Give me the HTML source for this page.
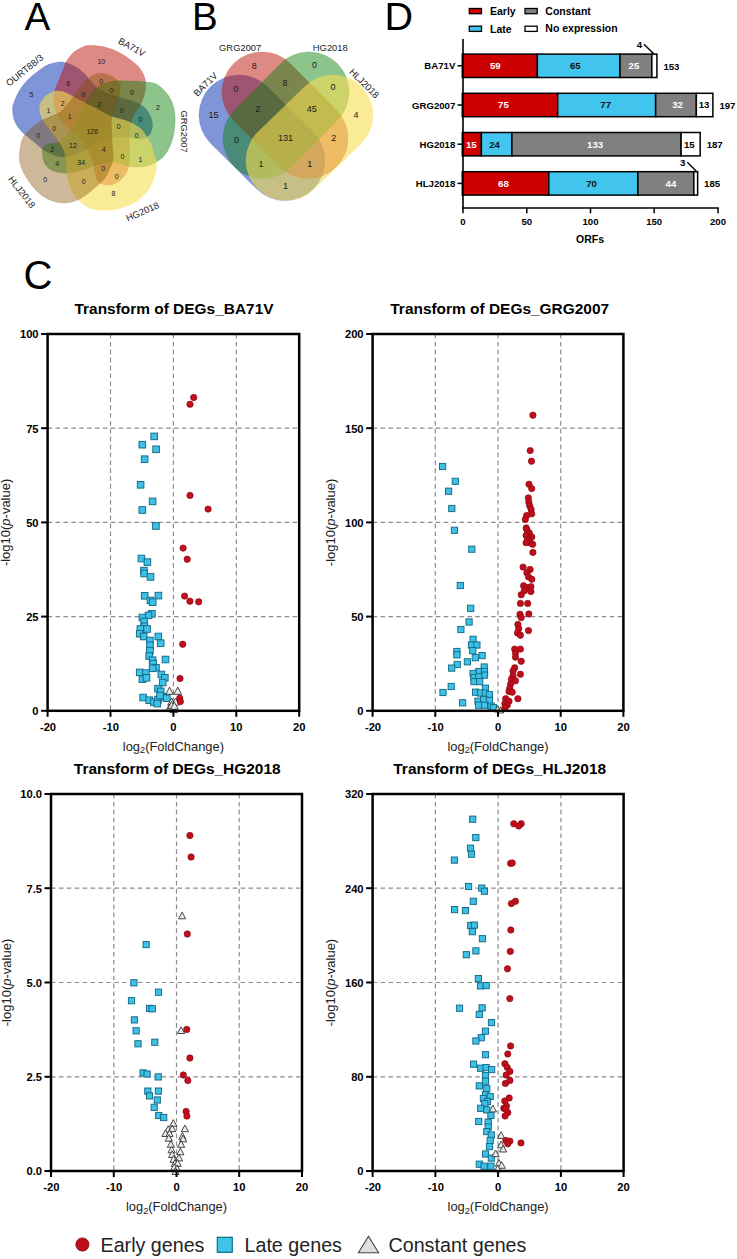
<!DOCTYPE html><html><head><meta charset="utf-8"><style>html,body{margin:0;padding:0;background:#fff}svg{display:block}text{font-family:"Liberation Sans", sans-serif}</style></head><body>
<svg width="737" height="1259" viewBox="0 0 737 1259">
<rect width="737" height="1259" fill="#fff"/>
<text x="24.4" y="29.8" font-size="38.5" fill="#000">A</text>
<text x="192.0" y="29.8" font-size="38.5" fill="#000">B</text>
<text x="23.6" y="288.5" font-size="40" fill="#000">C</text>
<text x="384.6" y="30.3" font-size="39.5" fill="#000">D</text>
<g id="vennA"><path d="M13.4 104.1 C14.4 100.9 16.5 95.5 18.8 91.5 C21.2 87.5 24.2 83.6 27.5 80.1 C30.7 76.7 34.8 73.5 38.4 70.9 C42.0 68.2 45.5 65.8 49.0 64.3 C52.6 62.9 56.6 62.2 59.8 62.0 C62.9 61.9 65.4 62.5 68.1 63.4 C70.9 64.3 73.7 65.5 76.4 67.2 C79.1 68.9 82.1 71.4 84.3 73.5 C86.5 75.6 87.7 77.6 89.6 79.8 C91.5 82.0 93.3 84.6 95.8 86.7 C98.3 88.7 100.8 90.4 104.5 92.1 C108.3 93.9 113.5 95.4 118.5 97.0 C123.5 98.6 130.3 100.2 134.5 101.9 C138.7 103.5 141.4 105.1 143.9 107.0 C146.3 109.0 147.8 111.2 149.1 113.5 C150.5 115.8 151.5 118.2 152.0 120.7 C152.5 123.2 152.7 125.9 152.2 128.3 C151.7 130.8 150.4 133.7 148.8 135.4 C147.3 137.2 145.3 138.3 143.0 138.8 C140.7 139.3 137.8 138.5 134.8 138.2 C131.7 138.0 128.1 137.1 124.6 137.1 C121.2 137.0 117.9 137.1 113.9 137.8 C109.9 138.4 104.8 139.2 100.8 140.9 C96.8 142.5 93.4 145.6 89.6 147.8 C85.9 149.9 82.3 152.0 78.3 153.5 C74.3 155.0 69.6 156.5 65.7 156.8 C61.7 157.1 58.3 156.4 54.6 155.3 C50.9 154.1 46.6 151.9 43.4 149.9 C40.2 147.8 38.2 145.4 35.3 143.0 C32.5 140.7 28.7 137.7 26.3 135.6 C23.8 133.5 22.5 133.0 20.6 130.6 C18.6 128.2 16.0 124.6 14.6 121.3 C13.3 117.9 12.8 113.4 12.6 110.5 C12.4 107.6 12.3 107.2 13.4 104.1Z" fill="rgb(43,77,190)" fill-opacity="0.60" stroke="rgb(43,77,190)" stroke-opacity="0.35" stroke-width="0.6"/>
<path d="M90.0 45.5 C93.3 45.5 99.1 45.8 103.6 46.8 C108.1 47.8 112.8 49.5 117.1 51.5 C121.4 53.5 125.7 56.4 129.3 59.0 C132.9 61.6 136.3 64.2 138.8 67.1 C141.3 70.0 143.2 73.6 144.3 76.6 C145.4 79.6 145.6 82.1 145.6 85.0 C145.6 87.9 145.3 90.9 144.5 94.0 C143.7 97.1 142.3 100.8 141.0 103.5 C139.7 106.2 138.1 108.0 136.6 110.5 C135.1 113.0 133.2 115.5 132.0 118.5 C130.8 121.5 130.0 124.4 129.5 128.5 C129.0 132.6 129.2 138.1 129.2 143.3 C129.2 148.6 129.8 155.5 129.5 160.0 C129.2 164.5 128.6 167.6 127.5 170.5 C126.4 173.4 124.8 175.5 123.0 177.5 C121.2 179.5 119.2 181.2 117.0 182.5 C114.8 183.8 112.3 184.8 109.8 185.0 C107.3 185.2 104.1 184.9 102.0 184.0 C99.9 183.1 98.2 181.6 97.0 179.5 C95.8 177.4 95.7 174.5 95.0 171.5 C94.3 168.5 94.0 164.8 93.0 161.5 C92.0 158.2 90.8 155.1 89.0 151.5 C87.2 147.9 84.8 143.3 82.0 140.0 C79.2 136.7 75.2 134.4 72.0 131.5 C68.8 128.6 65.7 125.8 63.0 122.5 C60.3 119.2 57.5 115.2 56.0 111.5 C54.5 107.8 54.0 104.4 54.0 100.5 C54.0 96.6 54.8 91.9 55.7 88.2 C56.7 84.5 58.3 81.9 59.7 78.4 C61.1 75.0 62.8 70.5 64.0 67.5 C65.2 64.5 65.3 63.1 67.0 60.5 C68.7 57.9 71.2 54.3 74.0 52.0 C76.8 49.7 80.9 47.8 83.6 46.7 C86.3 45.6 86.7 45.5 90.0 45.5Z" fill="rgb(189,21,9)" fill-opacity="0.50" stroke="rgb(189,21,9)" stroke-opacity="0.35" stroke-width="0.6"/>
<path d="M173.0 105.1 C174.0 108.2 174.8 111.8 175.0 116.0 C175.2 120.2 175.0 125.5 174.4 130.2 C173.7 134.8 172.5 139.7 170.9 143.9 C169.3 148.1 167.1 152.2 164.7 155.2 C162.3 158.2 159.4 160.0 156.6 161.7 C153.8 163.4 150.9 164.6 148.0 165.5 C145.0 166.3 141.9 166.7 139.0 166.9 C136.1 167.1 133.3 167.0 130.4 166.5 C127.6 166.1 124.6 164.8 121.8 164.1 C118.9 163.4 116.4 162.2 113.2 162.1 C110.1 162.0 106.8 162.5 102.6 163.5 C98.5 164.4 93.1 166.5 88.5 167.9 C83.9 169.2 79.0 170.9 74.8 171.8 C70.7 172.6 66.9 173.0 63.7 173.0 C60.4 172.9 57.8 172.3 55.3 171.5 C52.7 170.7 50.3 169.8 48.4 168.0 C46.4 166.2 44.6 163.2 43.6 160.7 C42.6 158.2 42.4 155.1 42.4 152.8 C42.4 150.5 42.5 148.4 43.6 146.9 C44.7 145.4 46.7 144.4 48.9 143.8 C51.2 143.2 54.5 144.2 57.1 143.0 C59.7 141.9 62.2 139.3 64.6 136.9 C67.0 134.6 69.3 132.0 71.4 128.9 C73.6 125.9 75.7 121.9 77.5 118.5 C79.4 115.1 80.8 111.9 82.7 108.5 C84.5 105.0 86.5 101.4 88.7 98.1 C91.0 94.7 93.1 90.9 96.1 88.3 C99.1 85.8 103.2 84.0 106.9 82.7 C110.6 81.5 114.4 81.1 118.2 80.8 C121.9 80.6 125.5 81.0 129.5 81.1 C133.5 81.3 138.1 81.3 142.3 81.7 C146.6 82.1 151.6 82.1 155.1 83.5 C158.6 84.8 160.9 87.3 163.3 89.6 C165.7 91.9 167.8 94.5 169.4 97.1 C171.0 99.7 172.1 101.9 173.0 105.1Z" fill="rgb(10,129,10)" fill-opacity="0.47" stroke="rgb(10,129,10)" stroke-opacity="0.35" stroke-width="0.6"/>
<path d="M140.1 198.7 C136.5 201.7 132.3 203.7 128.0 205.6 C123.7 207.4 118.9 208.9 114.4 209.6 C109.8 210.4 105.0 210.4 100.9 210.2 C96.8 209.9 93.2 209.4 90.0 208.2 C86.7 207.0 83.9 204.9 81.4 202.8 C78.8 200.8 76.5 199.0 74.6 196.0 C72.6 193.1 71.1 188.6 69.8 185.1 C68.6 181.6 67.8 178.4 67.3 175.1 C66.7 171.9 66.9 168.8 66.6 165.7 C66.3 162.6 66.3 159.8 65.6 156.6 C64.8 153.4 64.0 150.3 62.1 146.7 C60.2 143.2 57.3 139.4 54.4 135.3 C51.5 131.2 47.0 126.0 44.6 122.4 C42.3 118.7 41.0 115.9 40.2 113.2 C39.4 110.5 39.5 108.3 39.9 106.0 C40.3 103.7 41.2 101.5 42.6 99.5 C43.9 97.5 45.9 95.6 48.0 94.2 C50.1 92.8 52.8 91.7 55.1 91.2 C57.5 90.8 59.9 91.1 62.2 91.6 C64.6 92.2 66.7 93.3 69.3 94.6 C71.8 95.8 74.7 97.6 77.5 99.1 C80.4 100.6 83.4 102.1 86.5 103.7 C89.6 105.3 92.2 106.4 96.1 108.5 C100.0 110.5 104.7 113.9 110.0 116.0 C115.3 118.2 123.0 119.4 128.0 121.4 C133.0 123.4 136.8 125.4 140.0 128.0 C143.1 130.6 145.1 134.3 147.0 137.0 C148.8 139.7 149.9 141.6 151.0 144.4 C152.2 147.3 152.8 151.0 153.7 154.0 C154.7 156.9 156.3 158.6 156.5 162.0 C156.7 165.4 156.2 170.1 155.1 174.4 C154.0 178.7 152.2 183.8 149.7 187.8 C147.2 191.9 143.8 195.7 140.1 198.7Z" fill="rgb(247,222,80)" fill-opacity="0.60" stroke="rgb(247,222,80)" stroke-opacity="0.35" stroke-width="0.6"/>
<path d="M44.7 197.3 C40.9 195.0 37.3 191.7 33.9 187.9 C30.5 184.0 26.8 178.8 24.4 174.3 C22.0 169.8 20.3 165.2 19.7 160.7 C19.0 156.2 19.8 151.0 20.4 147.1 C20.9 143.3 21.6 140.6 22.9 137.9 C24.3 135.1 26.4 133.0 28.5 130.8 C30.6 128.6 32.9 126.5 35.4 124.7 C37.8 122.8 40.5 121.2 43.2 119.8 C45.8 118.5 48.7 117.5 51.2 116.4 C53.8 115.3 56.2 114.7 58.6 113.1 C61.0 111.5 62.8 110.0 65.5 107.0 C68.2 104.0 71.7 99.2 74.6 95.3 C77.5 91.5 80.5 87.0 83.1 84.0 C85.7 80.9 88.1 78.6 90.4 76.9 C92.8 75.2 94.8 74.3 97.1 73.7 C99.3 73.2 101.6 73.3 103.9 73.7 C106.2 74.1 108.8 74.9 110.9 76.0 C113.0 77.0 115.2 78.5 116.7 79.9 C118.2 81.4 119.4 83.0 120.0 84.8 C120.5 86.5 120.5 88.1 120.1 90.5 C119.7 92.9 118.5 96.0 117.6 99.1 C116.6 102.2 115.5 105.8 114.5 109.3 C113.5 112.7 111.9 114.9 111.4 120.0 C111.0 125.1 111.7 133.7 112.0 140.0 C112.2 146.4 113.3 153.4 112.9 158.0 C112.6 162.7 111.4 164.7 110.0 168.0 C108.7 171.4 107.0 175.2 104.9 178.1 C102.9 180.9 100.5 182.6 97.8 185.1 C95.0 187.6 91.6 190.7 88.2 193.2 C84.8 195.7 80.8 198.5 77.4 200.1 C74.0 201.6 71.2 202.4 67.8 202.8 C64.4 203.1 60.9 203.1 57.0 202.2 C53.2 201.3 48.6 199.7 44.7 197.3Z" fill="rgb(130,80,0)" fill-opacity="0.40" stroke="rgb(130,80,0)" stroke-opacity="0.35" stroke-width="0.6"/>

<text x="101.3" y="61.1" font-size="7" font-weight="normal" text-anchor="middle" fill="#1a1a1a" dominant-baseline="central">10</text>
<text x="31.5" y="94.6" font-size="7" font-weight="normal" text-anchor="middle" fill="#1a1a1a" dominant-baseline="central">5</text>
<text x="68.3" y="83.0" font-size="7" font-weight="normal" text-anchor="middle" fill="#1a1a1a" dominant-baseline="central">6</text>
<text x="101.1" y="81.2" font-size="7" font-weight="normal" text-anchor="middle" fill="#1a1a1a" dominant-baseline="central">0</text>
<text x="83.3" y="94.1" font-size="7" font-weight="normal" text-anchor="middle" fill="#1a1a1a" dominant-baseline="central">0</text>
<text x="111.4" y="90.7" font-size="7" font-weight="normal" text-anchor="middle" fill="#1a1a1a" dominant-baseline="central">0</text>
<text x="132.0" y="92.8" font-size="7" font-weight="normal" text-anchor="middle" fill="#1a1a1a" dominant-baseline="central">0</text>
<text x="158.0" y="107.5" font-size="7" font-weight="normal" text-anchor="middle" fill="#1a1a1a" dominant-baseline="central">2</text>
<text x="62.6" y="103.9" font-size="7" font-weight="normal" text-anchor="middle" fill="#1a1a1a" dominant-baseline="central">2</text>
<text x="48.5" y="110.9" font-size="7" font-weight="normal" text-anchor="middle" fill="#1a1a1a" dominant-baseline="central">1</text>
<text x="99.3" y="104.4" font-size="7" font-weight="normal" text-anchor="middle" fill="#1a1a1a" dominant-baseline="central">2</text>
<text x="121.7" y="110.3" font-size="7" font-weight="normal" text-anchor="middle" fill="#1a1a1a" dominant-baseline="central">0</text>
<text x="69.6" y="116.0" font-size="7" font-weight="normal" text-anchor="middle" fill="#1a1a1a" dominant-baseline="central">1</text>
<text x="140.5" y="119.9" font-size="7" font-weight="normal" text-anchor="middle" fill="#1a1a1a" dominant-baseline="central">0</text>
<text x="54.1" y="128.1" font-size="7" font-weight="normal" text-anchor="middle" fill="#1a1a1a" dominant-baseline="central">0</text>
<text x="92.3" y="131.0" font-size="7" font-weight="normal" text-anchor="middle" fill="#1a1a1a" dominant-baseline="central">126</text>
<text x="118.6" y="126.3" font-size="7" font-weight="normal" text-anchor="middle" fill="#1a1a1a" dominant-baseline="central">0</text>
<text x="38.2" y="135.9" font-size="7" font-weight="normal" text-anchor="middle" fill="#1a1a1a" dominant-baseline="central">0</text>
<text x="136.6" y="135.3" font-size="7" font-weight="normal" text-anchor="middle" fill="#1a1a1a" dominant-baseline="central">0</text>
<text x="52.3" y="149.5" font-size="7" font-weight="normal" text-anchor="middle" fill="#1a1a1a" dominant-baseline="central">2</text>
<text x="73.0" y="145.7" font-size="7" font-weight="normal" text-anchor="middle" fill="#1a1a1a" dominant-baseline="central">12</text>
<text x="103.6" y="149.0" font-size="7" font-weight="normal" text-anchor="middle" fill="#1a1a1a" dominant-baseline="central">4</text>
<text x="122.5" y="156.0" font-size="7" font-weight="normal" text-anchor="middle" fill="#1a1a1a" dominant-baseline="central">0</text>
<text x="140.5" y="159.8" font-size="7" font-weight="normal" text-anchor="middle" fill="#1a1a1a" dominant-baseline="central">1</text>
<text x="57.2" y="163.7" font-size="7" font-weight="normal" text-anchor="middle" fill="#1a1a1a" dominant-baseline="central">4</text>
<text x="81.2" y="162.4" font-size="7" font-weight="normal" text-anchor="middle" fill="#1a1a1a" dominant-baseline="central">34</text>
<text x="103.1" y="168.9" font-size="7" font-weight="normal" text-anchor="middle" fill="#1a1a1a" dominant-baseline="central">0</text>
<text x="116.8" y="176.1" font-size="7" font-weight="normal" text-anchor="middle" fill="#1a1a1a" dominant-baseline="central">0</text>
<text x="45.1" y="179.7" font-size="7" font-weight="normal" text-anchor="middle" fill="#1a1a1a" dominant-baseline="central">0</text>
<text x="83.8" y="181.7" font-size="7" font-weight="normal" text-anchor="middle" fill="#1a1a1a" dominant-baseline="central">0</text>
<text x="113.4" y="193.3" font-size="7" font-weight="normal" text-anchor="middle" fill="#1a1a1a" dominant-baseline="central">8</text>
<text x="132.0" y="47.0" font-size="9.4" font-weight="normal" text-anchor="middle" fill="#222" dominant-baseline="central" transform="rotate(29.0 132.0 47.0)">BA71V</text>
<text x="24.5" y="70.0" font-size="9.4" font-weight="normal" text-anchor="middle" fill="#222" dominant-baseline="central" transform="rotate(-39.0 24.5 70.0)">OURT88/3</text>
<text x="184.8" y="131.5" font-size="9.4" font-weight="normal" text-anchor="middle" fill="#222" dominant-baseline="central" transform="rotate(90.0 184.8 131.5)">GRG2007</text>
<text x="22.0" y="192.0" font-size="9.4" font-weight="normal" text-anchor="middle" fill="#222" dominant-baseline="central" transform="rotate(52.0 22.0 192.0)">HLJ2018</text>
<text x="142.4" y="211.4" font-size="9.4" font-weight="normal" text-anchor="middle" fill="#222" dominant-baseline="central" transform="rotate(-23.7 142.4 211.4)">HG2018</text>
</g>
<g id="vennB"><rect x="189.6" y="97.8" width="144.7" height="80.0" rx="40.0" transform="rotate(44.7 262.0 137.8)" fill="rgb(43,77,190)" fill-opacity="0.60" stroke="rgb(43,77,190)" stroke-opacity="0.35" stroke-width="0.6"/><rect x="212.3" y="75.2" width="145.4" height="80.0" rx="40.0" transform="rotate(45.3 285.0 115.2)" fill="rgb(189,21,9)" fill-opacity="0.50" stroke="rgb(189,21,9)" stroke-opacity="0.35" stroke-width="0.6"/><rect x="213.3" y="75.2" width="145.4" height="80.0" rx="40.0" transform="rotate(134.7 286.0 115.2)" fill="rgb(10,129,10)" fill-opacity="0.47" stroke="rgb(10,129,10)" stroke-opacity="0.35" stroke-width="0.6"/><rect x="236.8" y="97.8" width="145.4" height="80.0" rx="40.0" transform="rotate(135.9 309.5 137.8)" fill="rgb(247,222,80)" fill-opacity="0.60" stroke="rgb(247,222,80)" stroke-opacity="0.35" stroke-width="0.6"/>
<text x="254.2" y="66.0" font-size="9" font-weight="normal" text-anchor="middle" fill="#1a1a1a" dominant-baseline="central">8</text>
<text x="314.4" y="65.1" font-size="9" font-weight="normal" text-anchor="middle" fill="#1a1a1a" dominant-baseline="central">0</text>
<text x="235.7" y="88.7" font-size="9" font-weight="normal" text-anchor="middle" fill="#1a1a1a" dominant-baseline="central">0</text>
<text x="284.9" y="82.8" font-size="9" font-weight="normal" text-anchor="middle" fill="#1a1a1a" dominant-baseline="central">8</text>
<text x="332.9" y="86.8" font-size="9" font-weight="normal" text-anchor="middle" fill="#1a1a1a" dominant-baseline="central">0</text>
<text x="213.5" y="114.5" font-size="9" font-weight="normal" text-anchor="middle" fill="#1a1a1a" dominant-baseline="central">15</text>
<text x="257.7" y="108.5" font-size="9" font-weight="normal" text-anchor="middle" fill="#1a1a1a" dominant-baseline="central">2</text>
<text x="311.7" y="108.5" font-size="9" font-weight="normal" text-anchor="middle" fill="#1a1a1a" dominant-baseline="central">45</text>
<text x="356.0" y="114.5" font-size="9" font-weight="normal" text-anchor="middle" fill="#1a1a1a" dominant-baseline="central">4</text>
<text x="236.6" y="139.8" font-size="9" font-weight="normal" text-anchor="middle" fill="#1a1a1a" dominant-baseline="central">0</text>
<text x="285.4" y="138.4" font-size="9" font-weight="normal" text-anchor="middle" fill="#1a1a1a" dominant-baseline="central">131</text>
<text x="333.7" y="138.4" font-size="9" font-weight="normal" text-anchor="middle" fill="#1a1a1a" dominant-baseline="central">2</text>
<text x="261.0" y="164.2" font-size="9" font-weight="normal" text-anchor="middle" fill="#1a1a1a" dominant-baseline="central">1</text>
<text x="309.8" y="164.2" font-size="9" font-weight="normal" text-anchor="middle" fill="#1a1a1a" dominant-baseline="central">1</text>
<text x="285.4" y="185.9" font-size="9" font-weight="normal" text-anchor="middle" fill="#1a1a1a" dominant-baseline="central">1</text>
<text x="240.2" y="47.5" font-size="9.4" font-weight="normal" text-anchor="middle" fill="#222" dominant-baseline="central">GRG2007</text>
<text x="330.3" y="47.2" font-size="9.4" font-weight="normal" text-anchor="middle" fill="#222" dominant-baseline="central">HG2018</text>
<text x="205.3" y="84.1" font-size="9.4" font-weight="normal" text-anchor="middle" fill="#222" dominant-baseline="central" transform="rotate(-45.0 205.3 84.1)">BA71V</text>
<text x="364.5" y="83.2" font-size="9.4" font-weight="normal" text-anchor="middle" fill="#222" dominant-baseline="central" transform="rotate(45.0 364.5 83.2)">HLJ2018</text>
</g>
<g id="barD" font-weight="bold">
<rect x="469.3" y="8.5" width="12.2" height="5.2" fill="#cc0000" stroke="#000" stroke-width="1.3"/><text x="490.0" y="11.0" font-size="10.5" font-weight="bold" text-anchor="start" fill="#000" dominant-baseline="central">Early</text>
<rect x="525.0" y="8.5" width="12.2" height="5.2" fill="#808080" stroke="#000" stroke-width="1.3"/><text x="545.3" y="10.7" font-size="10.5" font-weight="bold" text-anchor="start" fill="#000" dominant-baseline="central">Constant</text>
<rect x="469.3" y="26.2" width="12.2" height="5.2" fill="#41c5ef" stroke="#000" stroke-width="1.3"/><text x="490.0" y="28.8" font-size="10.5" font-weight="bold" text-anchor="start" fill="#000" dominant-baseline="central">Late</text>
<rect x="525.0" y="26.2" width="12.2" height="5.2" fill="#fff" stroke="#000" stroke-width="1.3"/><text x="545.3" y="27.6" font-size="10.5" font-weight="bold" text-anchor="start" fill="#000" dominant-baseline="central">No expression</text>
<rect x="462.30" y="54.10" width="75.05" height="23.4" fill="#cc0000" stroke="#000" stroke-width="1.5"/>
<text x="495.3" y="65.7" font-size="9.6" font-weight="bold" text-anchor="middle" fill="#fff" dominant-baseline="central">59</text>
<rect x="537.35" y="54.10" width="82.68" height="23.4" fill="#41c5ef" stroke="#000" stroke-width="1.5"/>
<text x="575.3" y="65.7" font-size="9.6" font-weight="bold" text-anchor="middle" fill="#111" dominant-baseline="central">65</text>
<rect x="620.03" y="54.10" width="31.80" height="23.4" fill="#808080" stroke="#000" stroke-width="1.5"/>
<text x="633.9" y="65.7" font-size="9.6" font-weight="bold" text-anchor="middle" fill="#fff" dominant-baseline="central">25</text>
<rect x="651.83" y="54.10" width="5.09" height="23.4" fill="#fff" stroke="#000" stroke-width="1.5"/>
<text x="663.4" y="66.0" font-size="9.6" font-weight="bold" text-anchor="start" fill="#000" dominant-baseline="central">153</text>
<text x="455.3" y="65.8" font-size="9.6" font-weight="bold" text-anchor="end" fill="#000" dominant-baseline="central">BA71V</text>
<line x1="457.5" x2="463" y1="65.8" y2="65.8" stroke="#000" stroke-width="1.5"/>
<rect x="462.30" y="93.30" width="95.40" height="23.4" fill="#cc0000" stroke="#000" stroke-width="1.5"/>
<text x="503.4" y="104.9" font-size="9.6" font-weight="bold" text-anchor="middle" fill="#fff" dominant-baseline="central">75</text>
<rect x="557.70" y="93.30" width="97.94" height="23.4" fill="#41c5ef" stroke="#000" stroke-width="1.5"/>
<text x="605.7" y="104.9" font-size="9.6" font-weight="bold" text-anchor="middle" fill="#111" dominant-baseline="central">77</text>
<rect x="655.64" y="93.30" width="40.70" height="23.4" fill="#808080" stroke="#000" stroke-width="1.5"/>
<text x="677.6" y="104.9" font-size="9.6" font-weight="bold" text-anchor="middle" fill="#fff" dominant-baseline="central">32</text>
<rect x="696.35" y="93.30" width="16.54" height="23.4" fill="#fff" stroke="#000" stroke-width="1.5"/>
<text x="704.1" y="104.9" font-size="9.6" font-weight="bold" text-anchor="middle" fill="#000" dominant-baseline="central">13</text>
<text x="719.4" y="105.2" font-size="9.6" font-weight="bold" text-anchor="start" fill="#000" dominant-baseline="central">197</text>
<text x="455.3" y="105.0" font-size="9.6" font-weight="bold" text-anchor="end" fill="#000" dominant-baseline="central">GRG2007</text>
<line x1="457.5" x2="463" y1="105.0" y2="105.0" stroke="#000" stroke-width="1.5"/>
<rect x="462.30" y="132.50" width="19.08" height="23.4" fill="#cc0000" stroke="#000" stroke-width="1.5"/>
<text x="471.3" y="144.1" font-size="9.6" font-weight="bold" text-anchor="middle" fill="#fff" dominant-baseline="central">15</text>
<rect x="481.38" y="132.50" width="30.53" height="23.4" fill="#41c5ef" stroke="#000" stroke-width="1.5"/>
<text x="494.6" y="144.1" font-size="9.6" font-weight="bold" text-anchor="middle" fill="#111" dominant-baseline="central">24</text>
<rect x="511.91" y="132.50" width="169.18" height="23.4" fill="#808080" stroke="#000" stroke-width="1.5"/>
<text x="595.1" y="144.1" font-size="9.6" font-weight="bold" text-anchor="middle" fill="#fff" dominant-baseline="central">133</text>
<rect x="681.08" y="132.50" width="19.08" height="23.4" fill="#fff" stroke="#000" stroke-width="1.5"/>
<text x="689.3" y="144.1" font-size="9.6" font-weight="bold" text-anchor="middle" fill="#000" dominant-baseline="central">15</text>
<text x="706.7" y="144.4" font-size="9.6" font-weight="bold" text-anchor="start" fill="#000" dominant-baseline="central">187</text>
<text x="455.3" y="144.2" font-size="9.6" font-weight="bold" text-anchor="end" fill="#000" dominant-baseline="central">HG2018</text>
<line x1="457.5" x2="463" y1="144.2" y2="144.2" stroke="#000" stroke-width="1.5"/>
<rect x="462.30" y="171.70" width="86.50" height="23.4" fill="#cc0000" stroke="#000" stroke-width="1.5"/>
<text x="503.4" y="183.3" font-size="9.6" font-weight="bold" text-anchor="middle" fill="#fff" dominant-baseline="central">68</text>
<rect x="548.80" y="171.70" width="89.04" height="23.4" fill="#41c5ef" stroke="#000" stroke-width="1.5"/>
<text x="591.6" y="183.3" font-size="9.6" font-weight="bold" text-anchor="middle" fill="#111" dominant-baseline="central">70</text>
<rect x="637.84" y="171.70" width="55.97" height="23.4" fill="#808080" stroke="#000" stroke-width="1.5"/>
<text x="670.9" y="183.3" font-size="9.6" font-weight="bold" text-anchor="middle" fill="#fff" dominant-baseline="central">44</text>
<rect x="693.80" y="171.70" width="3.82" height="23.4" fill="#fff" stroke="#000" stroke-width="1.5"/>
<text x="704.1" y="183.6" font-size="9.6" font-weight="bold" text-anchor="start" fill="#000" dominant-baseline="central">185</text>
<text x="455.3" y="183.4" font-size="9.6" font-weight="bold" text-anchor="end" fill="#000" dominant-baseline="central">HLJ2018</text>
<line x1="457.5" x2="463" y1="183.4" y2="183.4" stroke="#000" stroke-width="1.5"/>
<text x="639.3" y="44.7" font-size="9.6" font-weight="bold" text-anchor="middle" fill="#000" dominant-baseline="central">4</text>
<line x1="643.9" y1="44.3" x2="653.8" y2="53.8" stroke="#000" stroke-width="1.4"/>
<text x="682.6" y="162.2" font-size="9.6" font-weight="bold" text-anchor="middle" fill="#000" dominant-baseline="central">3</text>
<line x1="687.3" y1="162.2" x2="696.2" y2="171" stroke="#000" stroke-width="1.4"/>
<line x1="463" x2="463" y1="39" y2="208.8" stroke="#000" stroke-width="1.6"/>
<line x1="462.2" x2="718.8" y1="208" y2="208" stroke="#000" stroke-width="1.6"/>
<line x1="463.0" x2="463.0" y1="208" y2="213.3" stroke="#000" stroke-width="1.5"/>
<text x="463.0" y="221.0" font-size="9.6" font-weight="bold" text-anchor="middle" fill="#000" dominant-baseline="central">0</text>
<line x1="526.8" x2="526.8" y1="208" y2="213.3" stroke="#000" stroke-width="1.5"/>
<text x="526.8" y="221.0" font-size="9.6" font-weight="bold" text-anchor="middle" fill="#000" dominant-baseline="central">50</text>
<line x1="590.5" x2="590.5" y1="208" y2="213.3" stroke="#000" stroke-width="1.5"/>
<text x="590.5" y="221.0" font-size="9.6" font-weight="bold" text-anchor="middle" fill="#000" dominant-baseline="central">100</text>
<line x1="654.2" x2="654.2" y1="208" y2="213.3" stroke="#000" stroke-width="1.5"/>
<text x="654.2" y="221.0" font-size="9.6" font-weight="bold" text-anchor="middle" fill="#000" dominant-baseline="central">150</text>
<line x1="718.0" x2="718.0" y1="208" y2="213.3" stroke="#000" stroke-width="1.5"/>
<text x="718.0" y="221.0" font-size="9.6" font-weight="bold" text-anchor="middle" fill="#000" dominant-baseline="central">200</text>
<text x="590.0" y="239.0" font-size="10.5" font-weight="bold" text-anchor="middle" fill="#000" dominant-baseline="central">ORFs</text>
</g>
<g><line x1="110.5" x2="110.5" y1="334.0" y2="710.8" stroke="#8c8c8c" stroke-width="1.2" stroke-dasharray="4.6 3.3"/><line x1="47.6" x2="299.2" y1="428.2" y2="428.2" stroke="#8c8c8c" stroke-width="1.2" stroke-dasharray="4.6 3.3"/><line x1="173.4" x2="173.4" y1="334.0" y2="710.8" stroke="#8c8c8c" stroke-width="1.2" stroke-dasharray="4.6 3.3"/><line x1="47.6" x2="299.2" y1="522.4" y2="522.4" stroke="#8c8c8c" stroke-width="1.2" stroke-dasharray="4.6 3.3"/><line x1="236.3" x2="236.3" y1="334.0" y2="710.8" stroke="#8c8c8c" stroke-width="1.2" stroke-dasharray="4.6 3.3"/><line x1="47.6" x2="299.2" y1="616.6" y2="616.6" stroke="#8c8c8c" stroke-width="1.2" stroke-dasharray="4.6 3.3"/><rect x="150.9" y="433.1" width="6.6" height="6.6" fill="#3fc0e6" stroke="#126a86" stroke-width="0.95"/><rect x="139.0" y="441.4" width="6.6" height="6.6" fill="#3fc0e6" stroke="#126a86" stroke-width="0.95"/><rect x="152.8" y="446.0" width="6.6" height="6.6" fill="#3fc0e6" stroke="#126a86" stroke-width="0.95"/><rect x="141.3" y="455.9" width="6.6" height="6.6" fill="#3fc0e6" stroke="#126a86" stroke-width="0.95"/><rect x="137.3" y="481.5" width="6.6" height="6.6" fill="#3fc0e6" stroke="#126a86" stroke-width="0.95"/><rect x="149.3" y="498.1" width="6.6" height="6.6" fill="#3fc0e6" stroke="#126a86" stroke-width="0.95"/><rect x="139.0" y="506.7" width="6.6" height="6.6" fill="#3fc0e6" stroke="#126a86" stroke-width="0.95"/><rect x="152.6" y="522.7" width="6.6" height="6.6" fill="#3fc0e6" stroke="#126a86" stroke-width="0.95"/><rect x="138.1" y="555.2" width="6.6" height="6.6" fill="#3fc0e6" stroke="#126a86" stroke-width="0.95"/><rect x="144.1" y="558.8" width="6.6" height="6.6" fill="#3fc0e6" stroke="#126a86" stroke-width="0.95"/><rect x="140.6" y="567.3" width="6.6" height="6.6" fill="#3fc0e6" stroke="#126a86" stroke-width="0.95"/><rect x="140.9" y="570.2" width="6.6" height="6.6" fill="#3fc0e6" stroke="#126a86" stroke-width="0.95"/><rect x="147.2" y="573.6" width="6.6" height="6.6" fill="#3fc0e6" stroke="#126a86" stroke-width="0.95"/><rect x="141.4" y="592.5" width="6.6" height="6.6" fill="#3fc0e6" stroke="#126a86" stroke-width="0.95"/><rect x="155.1" y="592.3" width="6.6" height="6.6" fill="#3fc0e6" stroke="#126a86" stroke-width="0.95"/><rect x="147.1" y="597.2" width="6.6" height="6.6" fill="#3fc0e6" stroke="#126a86" stroke-width="0.95"/><rect x="149.4" y="598.9" width="6.6" height="6.6" fill="#3fc0e6" stroke="#126a86" stroke-width="0.95"/><rect x="148.6" y="610.5" width="6.6" height="6.6" fill="#3fc0e6" stroke="#126a86" stroke-width="0.95"/><rect x="145.2" y="612.1" width="6.6" height="6.6" fill="#3fc0e6" stroke="#126a86" stroke-width="0.95"/><rect x="139.1" y="614.2" width="6.6" height="6.6" fill="#3fc0e6" stroke="#126a86" stroke-width="0.95"/><rect x="140.9" y="618.2" width="6.6" height="6.6" fill="#3fc0e6" stroke="#126a86" stroke-width="0.95"/><rect x="141.1" y="623.0" width="6.6" height="6.6" fill="#3fc0e6" stroke="#126a86" stroke-width="0.95"/><rect x="137.1" y="625.7" width="6.6" height="6.6" fill="#3fc0e6" stroke="#126a86" stroke-width="0.95"/><rect x="143.8" y="625.7" width="6.6" height="6.6" fill="#3fc0e6" stroke="#126a86" stroke-width="0.95"/><rect x="136.4" y="630.4" width="6.6" height="6.6" fill="#3fc0e6" stroke="#126a86" stroke-width="0.95"/><rect x="140.4" y="633.2" width="6.6" height="6.6" fill="#3fc0e6" stroke="#126a86" stroke-width="0.95"/><rect x="146.6" y="637.2" width="6.6" height="6.6" fill="#3fc0e6" stroke="#126a86" stroke-width="0.95"/><rect x="155.0" y="633.2" width="6.6" height="6.6" fill="#3fc0e6" stroke="#126a86" stroke-width="0.95"/><rect x="157.4" y="639.9" width="6.6" height="6.6" fill="#3fc0e6" stroke="#126a86" stroke-width="0.95"/><rect x="146.6" y="642.0" width="6.6" height="6.6" fill="#3fc0e6" stroke="#126a86" stroke-width="0.95"/><rect x="146.6" y="647.4" width="6.6" height="6.6" fill="#3fc0e6" stroke="#126a86" stroke-width="0.95"/><rect x="145.9" y="652.8" width="6.6" height="6.6" fill="#3fc0e6" stroke="#126a86" stroke-width="0.95"/><rect x="149.3" y="656.9" width="6.6" height="6.6" fill="#3fc0e6" stroke="#126a86" stroke-width="0.95"/><rect x="162.2" y="656.2" width="6.6" height="6.6" fill="#3fc0e6" stroke="#126a86" stroke-width="0.95"/><rect x="149.9" y="660.3" width="6.6" height="6.6" fill="#3fc0e6" stroke="#126a86" stroke-width="0.95"/><rect x="152.7" y="664.4" width="6.6" height="6.6" fill="#3fc0e6" stroke="#126a86" stroke-width="0.95"/><rect x="149.3" y="665.0" width="6.6" height="6.6" fill="#3fc0e6" stroke="#126a86" stroke-width="0.95"/><rect x="136.4" y="669.1" width="6.6" height="6.6" fill="#3fc0e6" stroke="#126a86" stroke-width="0.95"/><rect x="142.5" y="669.8" width="6.6" height="6.6" fill="#3fc0e6" stroke="#126a86" stroke-width="0.95"/><rect x="139.1" y="675.9" width="6.6" height="6.6" fill="#3fc0e6" stroke="#126a86" stroke-width="0.95"/><rect x="143.2" y="674.5" width="6.6" height="6.6" fill="#3fc0e6" stroke="#126a86" stroke-width="0.95"/><rect x="158.1" y="671.2" width="6.6" height="6.6" fill="#3fc0e6" stroke="#126a86" stroke-width="0.95"/><rect x="161.5" y="674.5" width="6.6" height="6.6" fill="#3fc0e6" stroke="#126a86" stroke-width="0.95"/><rect x="159.4" y="679.3" width="6.6" height="6.6" fill="#3fc0e6" stroke="#126a86" stroke-width="0.95"/><rect x="154.7" y="685.4" width="6.6" height="6.6" fill="#3fc0e6" stroke="#126a86" stroke-width="0.95"/><rect x="157.4" y="688.1" width="6.6" height="6.6" fill="#3fc0e6" stroke="#126a86" stroke-width="0.95"/><rect x="139.8" y="694.2" width="6.6" height="6.6" fill="#3fc0e6" stroke="#126a86" stroke-width="0.95"/><rect x="145.9" y="696.9" width="6.6" height="6.6" fill="#3fc0e6" stroke="#126a86" stroke-width="0.95"/><rect x="150.6" y="699.0" width="6.6" height="6.6" fill="#3fc0e6" stroke="#126a86" stroke-width="0.95"/><rect x="154.7" y="696.3" width="6.6" height="6.6" fill="#3fc0e6" stroke="#126a86" stroke-width="0.95"/><rect x="154.0" y="700.3" width="6.6" height="6.6" fill="#3fc0e6" stroke="#126a86" stroke-width="0.95"/><rect x="160.1" y="693.5" width="6.6" height="6.6" fill="#3fc0e6" stroke="#126a86" stroke-width="0.95"/><rect x="163.5" y="694.9" width="6.6" height="6.6" fill="#3fc0e6" stroke="#126a86" stroke-width="0.95"/><rect x="156.7" y="692.2" width="6.6" height="6.6" fill="#3fc0e6" stroke="#126a86" stroke-width="0.95"/><path d="M169.5 687.1 L173.3 694.3 L165.7 694.3 Z" fill="#ececec" stroke="#333" stroke-width="0.9" stroke-linejoin="miter"/><path d="M177.7 687.1 L181.5 694.3 L173.8 694.3 Z" fill="#ececec" stroke="#333" stroke-width="0.9" stroke-linejoin="miter"/><path d="M171.6 698.0 L175.4 705.2 L167.8 705.2 Z" fill="#ececec" stroke="#333" stroke-width="0.9" stroke-linejoin="miter"/><path d="M175.6 698.0 L179.4 705.2 L171.8 705.2 Z" fill="#ececec" stroke="#333" stroke-width="0.9" stroke-linejoin="miter"/><path d="M169.5 704.1 L173.3 711.3 L165.7 711.3 Z" fill="#ececec" stroke="#333" stroke-width="0.9" stroke-linejoin="miter"/><path d="M173.6 705.4 L177.4 712.6 L169.8 712.6 Z" fill="#ececec" stroke="#333" stroke-width="0.9" stroke-linejoin="miter"/><path d="M171.6 701.4 L175.4 708.6 L167.8 708.6 Z" fill="#ececec" stroke="#333" stroke-width="0.9" stroke-linejoin="miter"/><path d="M174.3 702.0 L178.2 709.2 L170.5 709.2 Z" fill="#ececec" stroke="#333" stroke-width="0.9" stroke-linejoin="miter"/><circle cx="193.7" cy="397.5" r="3.2" fill="#c20d1a" stroke="#7d0a12" stroke-width="0.6"/><circle cx="190.0" cy="404.3" r="3.2" fill="#c20d1a" stroke="#7d0a12" stroke-width="0.6"/><circle cx="190.0" cy="495.4" r="3.2" fill="#c20d1a" stroke="#7d0a12" stroke-width="0.6"/><circle cx="208.1" cy="509.1" r="3.2" fill="#c20d1a" stroke="#7d0a12" stroke-width="0.6"/><circle cx="183.1" cy="548.1" r="3.2" fill="#c20d1a" stroke="#7d0a12" stroke-width="0.6"/><circle cx="187.2" cy="559.3" r="3.2" fill="#c20d1a" stroke="#7d0a12" stroke-width="0.6"/><circle cx="184.6" cy="596.1" r="3.2" fill="#c20d1a" stroke="#7d0a12" stroke-width="0.6"/><circle cx="189.9" cy="601.2" r="3.2" fill="#c20d1a" stroke="#7d0a12" stroke-width="0.6"/><circle cx="198.7" cy="601.8" r="3.2" fill="#c20d1a" stroke="#7d0a12" stroke-width="0.6"/><circle cx="182.7" cy="644.3" r="3.2" fill="#c20d1a" stroke="#7d0a12" stroke-width="0.6"/><circle cx="180.0" cy="678.5" r="3.2" fill="#c20d1a" stroke="#7d0a12" stroke-width="0.6"/><circle cx="179.7" cy="698.2" r="3.2" fill="#c20d1a" stroke="#7d0a12" stroke-width="0.6"/><circle cx="180.4" cy="701.6" r="3.2" fill="#c20d1a" stroke="#7d0a12" stroke-width="0.6"/><rect x="47.6" y="334.0" width="251.6" height="376.8" fill="none" stroke="#000" stroke-width="2.5"/><line x1="47.6" x2="47.6" y1="710.8" y2="716.8" stroke="#000" stroke-width="2"/><text x="48.0" y="726.5" font-size="11.2" font-weight="bold" text-anchor="middle" fill="#000" dominant-baseline="central">-20</text><line x1="110.5" x2="110.5" y1="710.8" y2="716.8" stroke="#000" stroke-width="2"/><text x="110.9" y="726.5" font-size="11.2" font-weight="bold" text-anchor="middle" fill="#000" dominant-baseline="central">-10</text><line x1="173.4" x2="173.4" y1="710.8" y2="716.8" stroke="#000" stroke-width="2"/><text x="173.4" y="726.5" font-size="11.2" font-weight="bold" text-anchor="middle" fill="#000" dominant-baseline="central">0</text><line x1="236.3" x2="236.3" y1="710.8" y2="716.8" stroke="#000" stroke-width="2"/><text x="236.3" y="726.5" font-size="11.2" font-weight="bold" text-anchor="middle" fill="#000" dominant-baseline="central">10</text><line x1="299.2" x2="299.2" y1="710.8" y2="716.8" stroke="#000" stroke-width="2"/><text x="299.2" y="726.5" font-size="11.2" font-weight="bold" text-anchor="middle" fill="#000" dominant-baseline="central">20</text><line x1="41.1" x2="47.6" y1="710.8" y2="710.8" stroke="#000" stroke-width="2"/><text x="38.6" y="711.1" font-size="11.2" font-weight="bold" text-anchor="end" fill="#000" dominant-baseline="central">0</text><line x1="41.1" x2="47.6" y1="616.6" y2="616.6" stroke="#000" stroke-width="2"/><text x="38.6" y="616.9" font-size="11.2" font-weight="bold" text-anchor="end" fill="#000" dominant-baseline="central">25</text><line x1="41.1" x2="47.6" y1="522.4" y2="522.4" stroke="#000" stroke-width="2"/><text x="38.6" y="522.7" font-size="11.2" font-weight="bold" text-anchor="end" fill="#000" dominant-baseline="central">50</text><line x1="41.1" x2="47.6" y1="428.2" y2="428.2" stroke="#000" stroke-width="2"/><text x="38.6" y="428.5" font-size="11.2" font-weight="bold" text-anchor="end" fill="#000" dominant-baseline="central">75</text><line x1="41.1" x2="47.6" y1="334.0" y2="334.0" stroke="#000" stroke-width="2"/><text x="38.6" y="334.3" font-size="11.2" font-weight="bold" text-anchor="end" fill="#000" dominant-baseline="central">100</text><text x="174.0" y="313.5" font-size="15.45" font-weight="bold" text-anchor="middle">Transform of DEGs_BA71V</text><text x="173.4" y="750.9" font-size="12.9" text-anchor="middle" fill="#222">log<tspan font-size="9.2" dy="2.5">2</tspan><tspan dy="-2.5">(FoldChange)</tspan></text><text x="10.3" y="522.4" font-size="13" text-anchor="middle" fill="#222" transform="rotate(-90 10.3 522.4)">-log10(<tspan font-style="italic">p</tspan>-value)</text></g>
<g><line x1="435.3" x2="435.3" y1="334.0" y2="710.8" stroke="#8c8c8c" stroke-width="1.2" stroke-dasharray="4.6 3.3"/><line x1="372.6" x2="623.4" y1="428.2" y2="428.2" stroke="#8c8c8c" stroke-width="1.2" stroke-dasharray="4.6 3.3"/><line x1="498.0" x2="498.0" y1="334.0" y2="710.8" stroke="#8c8c8c" stroke-width="1.2" stroke-dasharray="4.6 3.3"/><line x1="372.6" x2="623.4" y1="522.4" y2="522.4" stroke="#8c8c8c" stroke-width="1.2" stroke-dasharray="4.6 3.3"/><line x1="560.7" x2="560.7" y1="334.0" y2="710.8" stroke="#8c8c8c" stroke-width="1.2" stroke-dasharray="4.6 3.3"/><line x1="372.6" x2="623.4" y1="616.6" y2="616.6" stroke="#8c8c8c" stroke-width="1.2" stroke-dasharray="4.6 3.3"/><rect x="439.5" y="463.4" width="6.2" height="6.2" fill="#3fc0e6" stroke="#126a86" stroke-width="0.95"/><rect x="452.2" y="478.2" width="6.2" height="6.2" fill="#3fc0e6" stroke="#126a86" stroke-width="0.95"/><rect x="445.5" y="488.1" width="6.2" height="6.2" fill="#3fc0e6" stroke="#126a86" stroke-width="0.95"/><rect x="448.7" y="505.4" width="6.2" height="6.2" fill="#3fc0e6" stroke="#126a86" stroke-width="0.95"/><rect x="451.3" y="527.2" width="6.2" height="6.2" fill="#3fc0e6" stroke="#126a86" stroke-width="0.95"/><rect x="468.7" y="546.1" width="6.2" height="6.2" fill="#3fc0e6" stroke="#126a86" stroke-width="0.95"/><rect x="457.2" y="582.4" width="6.2" height="6.2" fill="#3fc0e6" stroke="#126a86" stroke-width="0.95"/><rect x="467.6" y="605.2" width="6.2" height="6.2" fill="#3fc0e6" stroke="#126a86" stroke-width="0.95"/><rect x="466.0" y="618.9" width="6.2" height="6.2" fill="#3fc0e6" stroke="#126a86" stroke-width="0.95"/><rect x="457.8" y="626.4" width="6.2" height="6.2" fill="#3fc0e6" stroke="#126a86" stroke-width="0.95"/><rect x="470.0" y="636.2" width="6.2" height="6.2" fill="#3fc0e6" stroke="#126a86" stroke-width="0.95"/><rect x="468.4" y="641.9" width="6.2" height="6.2" fill="#3fc0e6" stroke="#126a86" stroke-width="0.95"/><rect x="473.8" y="641.9" width="6.2" height="6.2" fill="#3fc0e6" stroke="#126a86" stroke-width="0.95"/><rect x="469.6" y="647.6" width="6.2" height="6.2" fill="#3fc0e6" stroke="#126a86" stroke-width="0.95"/><rect x="453.8" y="648.4" width="6.2" height="6.2" fill="#3fc0e6" stroke="#126a86" stroke-width="0.95"/><rect x="453.8" y="651.7" width="6.2" height="6.2" fill="#3fc0e6" stroke="#126a86" stroke-width="0.95"/><rect x="479.0" y="652.5" width="6.2" height="6.2" fill="#3fc0e6" stroke="#126a86" stroke-width="0.95"/><rect x="472.2" y="654.6" width="6.2" height="6.2" fill="#3fc0e6" stroke="#126a86" stroke-width="0.95"/><rect x="464.3" y="658.7" width="6.2" height="6.2" fill="#3fc0e6" stroke="#126a86" stroke-width="0.95"/><rect x="454.1" y="661.4" width="6.2" height="6.2" fill="#3fc0e6" stroke="#126a86" stroke-width="0.95"/><rect x="448.6" y="665.0" width="6.2" height="6.2" fill="#3fc0e6" stroke="#126a86" stroke-width="0.95"/><rect x="481.1" y="663.9" width="6.2" height="6.2" fill="#3fc0e6" stroke="#126a86" stroke-width="0.95"/><rect x="475.7" y="668.4" width="6.2" height="6.2" fill="#3fc0e6" stroke="#126a86" stroke-width="0.95"/><rect x="470.0" y="670.4" width="6.2" height="6.2" fill="#3fc0e6" stroke="#126a86" stroke-width="0.95"/><rect x="481.4" y="668.4" width="6.2" height="6.2" fill="#3fc0e6" stroke="#126a86" stroke-width="0.95"/><rect x="481.4" y="672.0" width="6.2" height="6.2" fill="#3fc0e6" stroke="#126a86" stroke-width="0.95"/><rect x="470.9" y="674.5" width="6.2" height="6.2" fill="#3fc0e6" stroke="#126a86" stroke-width="0.95"/><rect x="475.7" y="673.7" width="6.2" height="6.2" fill="#3fc0e6" stroke="#126a86" stroke-width="0.95"/><rect x="470.9" y="678.5" width="6.2" height="6.2" fill="#3fc0e6" stroke="#126a86" stroke-width="0.95"/><rect x="476.6" y="678.5" width="6.2" height="6.2" fill="#3fc0e6" stroke="#126a86" stroke-width="0.95"/><rect x="448.1" y="683.4" width="6.2" height="6.2" fill="#3fc0e6" stroke="#126a86" stroke-width="0.95"/><rect x="439.9" y="689.4" width="6.2" height="6.2" fill="#3fc0e6" stroke="#126a86" stroke-width="0.95"/><rect x="482.3" y="685.1" width="6.2" height="6.2" fill="#3fc0e6" stroke="#126a86" stroke-width="0.95"/><rect x="472.5" y="689.1" width="6.2" height="6.2" fill="#3fc0e6" stroke="#126a86" stroke-width="0.95"/><rect x="477.4" y="689.9" width="6.2" height="6.2" fill="#3fc0e6" stroke="#126a86" stroke-width="0.95"/><rect x="482.3" y="689.9" width="6.2" height="6.2" fill="#3fc0e6" stroke="#126a86" stroke-width="0.95"/><rect x="486.3" y="691.6" width="6.2" height="6.2" fill="#3fc0e6" stroke="#126a86" stroke-width="0.95"/><rect x="459.5" y="699.7" width="6.2" height="6.2" fill="#3fc0e6" stroke="#126a86" stroke-width="0.95"/><rect x="474.9" y="698.1" width="6.2" height="6.2" fill="#3fc0e6" stroke="#126a86" stroke-width="0.95"/><rect x="480.6" y="696.4" width="6.2" height="6.2" fill="#3fc0e6" stroke="#126a86" stroke-width="0.95"/><rect x="486.3" y="697.3" width="6.2" height="6.2" fill="#3fc0e6" stroke="#126a86" stroke-width="0.95"/><rect x="475.7" y="702.1" width="6.2" height="6.2" fill="#3fc0e6" stroke="#126a86" stroke-width="0.95"/><rect x="481.4" y="702.1" width="6.2" height="6.2" fill="#3fc0e6" stroke="#126a86" stroke-width="0.95"/><rect x="488.0" y="703.0" width="6.2" height="6.2" fill="#3fc0e6" stroke="#126a86" stroke-width="0.95"/><rect x="490.4" y="704.6" width="6.2" height="6.2" fill="#3fc0e6" stroke="#126a86" stroke-width="0.95"/><path d="M497.6 705.8 L500.9 712.0 L494.3 712.0 Z" fill="#ececec" stroke="#333" stroke-width="0.9" stroke-linejoin="miter"/><path d="M500.5 706.8 L503.8 713.0 L497.2 713.0 Z" fill="#ececec" stroke="#333" stroke-width="0.9" stroke-linejoin="miter"/><circle cx="532.9" cy="415.2" r="3.2" fill="#c20d1a" stroke="#7d0a12" stroke-width="0.6"/><circle cx="530.2" cy="450.6" r="3.2" fill="#c20d1a" stroke="#7d0a12" stroke-width="0.6"/><circle cx="531.5" cy="461.2" r="3.2" fill="#c20d1a" stroke="#7d0a12" stroke-width="0.6"/><circle cx="529.0" cy="484.3" r="3.2" fill="#c20d1a" stroke="#7d0a12" stroke-width="0.6"/><circle cx="531.7" cy="488.6" r="3.2" fill="#c20d1a" stroke="#7d0a12" stroke-width="0.6"/><circle cx="528.3" cy="497.9" r="3.2" fill="#c20d1a" stroke="#7d0a12" stroke-width="0.6"/><circle cx="528.8" cy="502.0" r="3.2" fill="#c20d1a" stroke="#7d0a12" stroke-width="0.6"/><circle cx="529.7" cy="505.8" r="3.2" fill="#c20d1a" stroke="#7d0a12" stroke-width="0.6"/><circle cx="531.1" cy="509.4" r="3.2" fill="#c20d1a" stroke="#7d0a12" stroke-width="0.6"/><circle cx="531.7" cy="513.8" r="3.2" fill="#c20d1a" stroke="#7d0a12" stroke-width="0.6"/><circle cx="526.7" cy="515.5" r="3.2" fill="#c20d1a" stroke="#7d0a12" stroke-width="0.6"/><circle cx="525.3" cy="519.4" r="3.2" fill="#c20d1a" stroke="#7d0a12" stroke-width="0.6"/><circle cx="526.2" cy="527.9" r="3.2" fill="#c20d1a" stroke="#7d0a12" stroke-width="0.6"/><circle cx="526.9" cy="529.7" r="3.2" fill="#c20d1a" stroke="#7d0a12" stroke-width="0.6"/><circle cx="529.3" cy="532.9" r="3.2" fill="#c20d1a" stroke="#7d0a12" stroke-width="0.6"/><circle cx="526.1" cy="535.4" r="3.2" fill="#c20d1a" stroke="#7d0a12" stroke-width="0.6"/><circle cx="531.8" cy="537.0" r="3.2" fill="#c20d1a" stroke="#7d0a12" stroke-width="0.6"/><circle cx="527.7" cy="539.4" r="3.2" fill="#c20d1a" stroke="#7d0a12" stroke-width="0.6"/><circle cx="530.1" cy="542.7" r="3.2" fill="#c20d1a" stroke="#7d0a12" stroke-width="0.6"/><circle cx="526.1" cy="542.7" r="3.2" fill="#c20d1a" stroke="#7d0a12" stroke-width="0.6"/><circle cx="532.6" cy="544.3" r="3.2" fill="#c20d1a" stroke="#7d0a12" stroke-width="0.6"/><circle cx="532.9" cy="552.4" r="3.2" fill="#c20d1a" stroke="#7d0a12" stroke-width="0.6"/><circle cx="523.1" cy="567.1" r="3.2" fill="#c20d1a" stroke="#7d0a12" stroke-width="0.6"/><circle cx="530.1" cy="569.5" r="3.2" fill="#c20d1a" stroke="#7d0a12" stroke-width="0.6"/><circle cx="526.9" cy="572.8" r="3.2" fill="#c20d1a" stroke="#7d0a12" stroke-width="0.6"/><circle cx="528.5" cy="576.9" r="3.2" fill="#c20d1a" stroke="#7d0a12" stroke-width="0.6"/><circle cx="531.8" cy="579.3" r="3.2" fill="#c20d1a" stroke="#7d0a12" stroke-width="0.6"/><circle cx="523.6" cy="585.8" r="3.2" fill="#c20d1a" stroke="#7d0a12" stroke-width="0.6"/><circle cx="526.9" cy="587.5" r="3.2" fill="#c20d1a" stroke="#7d0a12" stroke-width="0.6"/><circle cx="530.9" cy="586.6" r="3.2" fill="#c20d1a" stroke="#7d0a12" stroke-width="0.6"/><circle cx="524.4" cy="590.7" r="3.2" fill="#c20d1a" stroke="#7d0a12" stroke-width="0.6"/><circle cx="530.9" cy="591.5" r="3.2" fill="#c20d1a" stroke="#7d0a12" stroke-width="0.6"/><circle cx="521.2" cy="594.8" r="3.2" fill="#c20d1a" stroke="#7d0a12" stroke-width="0.6"/><circle cx="520.4" cy="603.4" r="3.2" fill="#c20d1a" stroke="#7d0a12" stroke-width="0.6"/><circle cx="527.7" cy="603.4" r="3.2" fill="#c20d1a" stroke="#7d0a12" stroke-width="0.6"/><circle cx="520.0" cy="614.3" r="3.2" fill="#c20d1a" stroke="#7d0a12" stroke-width="0.6"/><circle cx="528.8" cy="614.0" r="3.2" fill="#c20d1a" stroke="#7d0a12" stroke-width="0.6"/><circle cx="521.2" cy="617.6" r="3.2" fill="#c20d1a" stroke="#7d0a12" stroke-width="0.6"/><circle cx="517.9" cy="624.4" r="3.2" fill="#c20d1a" stroke="#7d0a12" stroke-width="0.6"/><circle cx="518.7" cy="628.8" r="3.2" fill="#c20d1a" stroke="#7d0a12" stroke-width="0.6"/><circle cx="528.5" cy="630.6" r="3.2" fill="#c20d1a" stroke="#7d0a12" stroke-width="0.6"/><circle cx="517.5" cy="633.0" r="3.2" fill="#c20d1a" stroke="#7d0a12" stroke-width="0.6"/><circle cx="520.4" cy="635.2" r="3.2" fill="#c20d1a" stroke="#7d0a12" stroke-width="0.6"/><circle cx="514.7" cy="649.1" r="3.2" fill="#c20d1a" stroke="#7d0a12" stroke-width="0.6"/><circle cx="520.4" cy="649.1" r="3.2" fill="#c20d1a" stroke="#7d0a12" stroke-width="0.6"/><circle cx="515.5" cy="653.1" r="3.2" fill="#c20d1a" stroke="#7d0a12" stroke-width="0.6"/><circle cx="515.5" cy="657.2" r="3.2" fill="#c20d1a" stroke="#7d0a12" stroke-width="0.6"/><circle cx="521.2" cy="661.3" r="3.2" fill="#c20d1a" stroke="#7d0a12" stroke-width="0.6"/><circle cx="514.7" cy="667.8" r="3.2" fill="#c20d1a" stroke="#7d0a12" stroke-width="0.6"/><circle cx="513.0" cy="671.0" r="3.2" fill="#c20d1a" stroke="#7d0a12" stroke-width="0.6"/><circle cx="520.4" cy="674.3" r="3.2" fill="#c20d1a" stroke="#7d0a12" stroke-width="0.6"/><circle cx="513.0" cy="675.9" r="3.2" fill="#c20d1a" stroke="#7d0a12" stroke-width="0.6"/><circle cx="511.4" cy="679.2" r="3.2" fill="#c20d1a" stroke="#7d0a12" stroke-width="0.6"/><circle cx="515.5" cy="680.8" r="3.2" fill="#c20d1a" stroke="#7d0a12" stroke-width="0.6"/><circle cx="510.6" cy="684.1" r="3.2" fill="#c20d1a" stroke="#7d0a12" stroke-width="0.6"/><circle cx="509.8" cy="688.2" r="3.2" fill="#c20d1a" stroke="#7d0a12" stroke-width="0.6"/><circle cx="509.0" cy="691.4" r="3.2" fill="#c20d1a" stroke="#7d0a12" stroke-width="0.6"/><circle cx="512.2" cy="692.2" r="3.2" fill="#c20d1a" stroke="#7d0a12" stroke-width="0.6"/><circle cx="517.9" cy="698.7" r="3.2" fill="#c20d1a" stroke="#7d0a12" stroke-width="0.6"/><circle cx="505.7" cy="698.7" r="3.2" fill="#c20d1a" stroke="#7d0a12" stroke-width="0.6"/><circle cx="509.0" cy="701.2" r="3.2" fill="#c20d1a" stroke="#7d0a12" stroke-width="0.6"/><circle cx="504.9" cy="703.6" r="3.2" fill="#c20d1a" stroke="#7d0a12" stroke-width="0.6"/><circle cx="507.3" cy="705.2" r="3.2" fill="#c20d1a" stroke="#7d0a12" stroke-width="0.6"/><circle cx="504.9" cy="707.7" r="3.2" fill="#c20d1a" stroke="#7d0a12" stroke-width="0.6"/><rect x="372.6" y="334.0" width="250.8" height="376.8" fill="none" stroke="#000" stroke-width="2.5"/><line x1="372.6" x2="372.6" y1="710.8" y2="716.8" stroke="#000" stroke-width="2"/><text x="373.0" y="726.5" font-size="11.2" font-weight="bold" text-anchor="middle" fill="#000" dominant-baseline="central">-20</text><line x1="435.3" x2="435.3" y1="710.8" y2="716.8" stroke="#000" stroke-width="2"/><text x="435.7" y="726.5" font-size="11.2" font-weight="bold" text-anchor="middle" fill="#000" dominant-baseline="central">-10</text><line x1="498.0" x2="498.0" y1="710.8" y2="716.8" stroke="#000" stroke-width="2"/><text x="498.0" y="726.5" font-size="11.2" font-weight="bold" text-anchor="middle" fill="#000" dominant-baseline="central">0</text><line x1="560.7" x2="560.7" y1="710.8" y2="716.8" stroke="#000" stroke-width="2"/><text x="560.7" y="726.5" font-size="11.2" font-weight="bold" text-anchor="middle" fill="#000" dominant-baseline="central">10</text><line x1="623.4" x2="623.4" y1="710.8" y2="716.8" stroke="#000" stroke-width="2"/><text x="623.4" y="726.5" font-size="11.2" font-weight="bold" text-anchor="middle" fill="#000" dominant-baseline="central">20</text><line x1="366.1" x2="372.6" y1="710.8" y2="710.8" stroke="#000" stroke-width="2"/><text x="363.6" y="711.1" font-size="11.2" font-weight="bold" text-anchor="end" fill="#000" dominant-baseline="central">0</text><line x1="366.1" x2="372.6" y1="616.6" y2="616.6" stroke="#000" stroke-width="2"/><text x="363.6" y="616.9" font-size="11.2" font-weight="bold" text-anchor="end" fill="#000" dominant-baseline="central">50</text><line x1="366.1" x2="372.6" y1="522.4" y2="522.4" stroke="#000" stroke-width="2"/><text x="363.6" y="522.7" font-size="11.2" font-weight="bold" text-anchor="end" fill="#000" dominant-baseline="central">100</text><line x1="366.1" x2="372.6" y1="428.2" y2="428.2" stroke="#000" stroke-width="2"/><text x="363.6" y="428.5" font-size="11.2" font-weight="bold" text-anchor="end" fill="#000" dominant-baseline="central">150</text><line x1="366.1" x2="372.6" y1="334.0" y2="334.0" stroke="#000" stroke-width="2"/><text x="363.6" y="334.3" font-size="11.2" font-weight="bold" text-anchor="end" fill="#000" dominant-baseline="central">200</text><text x="499.7" y="313.5" font-size="15.45" font-weight="bold" text-anchor="middle">Transform of DEGs_GRG2007</text><text x="498.0" y="750.9" font-size="12.9" text-anchor="middle" fill="#222">log<tspan font-size="9.2" dy="2.5">2</tspan><tspan dy="-2.5">(FoldChange)</tspan></text><text x="335.3" y="522.4" font-size="13" text-anchor="middle" fill="#222" transform="rotate(-90 335.3 522.4)">-log10(<tspan font-style="italic">p</tspan>-value)</text></g>
<g><line x1="113.8" x2="113.8" y1="794.0" y2="1171.0" stroke="#8c8c8c" stroke-width="1.2" stroke-dasharray="4.6 3.3"/><line x1="51.0" x2="302.0" y1="888.2" y2="888.2" stroke="#8c8c8c" stroke-width="1.2" stroke-dasharray="4.6 3.3"/><line x1="176.5" x2="176.5" y1="794.0" y2="1171.0" stroke="#8c8c8c" stroke-width="1.2" stroke-dasharray="4.6 3.3"/><line x1="51.0" x2="302.0" y1="982.5" y2="982.5" stroke="#8c8c8c" stroke-width="1.2" stroke-dasharray="4.6 3.3"/><line x1="239.2" x2="239.2" y1="794.0" y2="1171.0" stroke="#8c8c8c" stroke-width="1.2" stroke-dasharray="4.6 3.3"/><line x1="51.0" x2="302.0" y1="1076.8" y2="1076.8" stroke="#8c8c8c" stroke-width="1.2" stroke-dasharray="4.6 3.3"/><rect x="143.0" y="941.5" width="6.2" height="6.2" fill="#3fc0e6" stroke="#126a86" stroke-width="0.95"/><rect x="130.8" y="979.7" width="6.2" height="6.2" fill="#3fc0e6" stroke="#126a86" stroke-width="0.95"/><rect x="155.4" y="989.1" width="6.2" height="6.2" fill="#3fc0e6" stroke="#126a86" stroke-width="0.95"/><rect x="128.4" y="997.6" width="6.2" height="6.2" fill="#3fc0e6" stroke="#126a86" stroke-width="0.95"/><rect x="146.5" y="1005.3" width="6.2" height="6.2" fill="#3fc0e6" stroke="#126a86" stroke-width="0.95"/><rect x="149.2" y="1005.7" width="6.2" height="6.2" fill="#3fc0e6" stroke="#126a86" stroke-width="0.95"/><rect x="131.3" y="1016.8" width="6.2" height="6.2" fill="#3fc0e6" stroke="#126a86" stroke-width="0.95"/><rect x="133.0" y="1027.7" width="6.2" height="6.2" fill="#3fc0e6" stroke="#126a86" stroke-width="0.95"/><rect x="134.9" y="1040.7" width="6.2" height="6.2" fill="#3fc0e6" stroke="#126a86" stroke-width="0.95"/><rect x="151.7" y="1039.1" width="6.2" height="6.2" fill="#3fc0e6" stroke="#126a86" stroke-width="0.95"/><rect x="140.0" y="1069.8" width="6.2" height="6.2" fill="#3fc0e6" stroke="#126a86" stroke-width="0.95"/><rect x="144.0" y="1070.9" width="6.2" height="6.2" fill="#3fc0e6" stroke="#126a86" stroke-width="0.95"/><rect x="155.1" y="1073.8" width="6.2" height="6.2" fill="#3fc0e6" stroke="#126a86" stroke-width="0.95"/><rect x="144.7" y="1088.0" width="6.2" height="6.2" fill="#3fc0e6" stroke="#126a86" stroke-width="0.95"/><rect x="155.3" y="1088.0" width="6.2" height="6.2" fill="#3fc0e6" stroke="#126a86" stroke-width="0.95"/><rect x="146.4" y="1092.8" width="6.2" height="6.2" fill="#3fc0e6" stroke="#126a86" stroke-width="0.95"/><rect x="154.2" y="1096.9" width="6.2" height="6.2" fill="#3fc0e6" stroke="#126a86" stroke-width="0.95"/><rect x="151.1" y="1104.2" width="6.2" height="6.2" fill="#3fc0e6" stroke="#126a86" stroke-width="0.95"/><rect x="155.6" y="1112.4" width="6.2" height="6.2" fill="#3fc0e6" stroke="#126a86" stroke-width="0.95"/><rect x="160.6" y="1114.4" width="6.2" height="6.2" fill="#3fc0e6" stroke="#126a86" stroke-width="0.95"/><path d="M182.1 912.1 L185.7 918.8 L178.5 918.8 Z" fill="#ececec" stroke="#333" stroke-width="0.9" stroke-linejoin="miter"/><path d="M181.1 1026.8 L184.7 1033.5 L177.5 1033.5 Z" fill="#ececec" stroke="#333" stroke-width="0.9" stroke-linejoin="miter"/><path d="M173.3 1119.6 L176.9 1126.3 L169.7 1126.3 Z" fill="#ececec" stroke="#333" stroke-width="0.9" stroke-linejoin="miter"/><path d="M184.9 1125.0 L188.5 1131.7 L181.3 1131.7 Z" fill="#ececec" stroke="#333" stroke-width="0.9" stroke-linejoin="miter"/><path d="M168.2 1125.7 L171.8 1132.4 L164.6 1132.4 Z" fill="#ececec" stroke="#333" stroke-width="0.9" stroke-linejoin="miter"/><path d="M172.2 1125.0 L175.8 1131.7 L168.6 1131.7 Z" fill="#ececec" stroke="#333" stroke-width="0.9" stroke-linejoin="miter"/><path d="M165.5 1129.8 L169.1 1136.5 L161.9 1136.5 Z" fill="#ececec" stroke="#333" stroke-width="0.9" stroke-linejoin="miter"/><path d="M169.5 1129.8 L173.1 1136.5 L165.9 1136.5 Z" fill="#ececec" stroke="#333" stroke-width="0.9" stroke-linejoin="miter"/><path d="M182.4 1132.5 L186.0 1139.2 L178.8 1139.2 Z" fill="#ececec" stroke="#333" stroke-width="0.9" stroke-linejoin="miter"/><path d="M168.8 1134.5 L172.4 1141.2 L165.2 1141.2 Z" fill="#ececec" stroke="#333" stroke-width="0.9" stroke-linejoin="miter"/><path d="M183.1 1135.2 L186.7 1141.9 L179.5 1141.9 Z" fill="#ececec" stroke="#333" stroke-width="0.9" stroke-linejoin="miter"/><path d="M181.1 1140.6 L184.7 1147.3 L177.5 1147.3 Z" fill="#ececec" stroke="#333" stroke-width="0.9" stroke-linejoin="miter"/><path d="M170.9 1140.6 L174.5 1147.3 L167.3 1147.3 Z" fill="#ececec" stroke="#333" stroke-width="0.9" stroke-linejoin="miter"/><path d="M171.6 1146.1 L175.2 1152.8 L168.0 1152.8 Z" fill="#ececec" stroke="#333" stroke-width="0.9" stroke-linejoin="miter"/><path d="M180.4 1148.1 L184.0 1154.8 L176.8 1154.8 Z" fill="#ececec" stroke="#333" stroke-width="0.9" stroke-linejoin="miter"/><path d="M172.2 1150.8 L175.8 1157.5 L168.6 1157.5 Z" fill="#ececec" stroke="#333" stroke-width="0.9" stroke-linejoin="miter"/><path d="M179.0 1154.2 L182.6 1160.9 L175.4 1160.9 Z" fill="#ececec" stroke="#333" stroke-width="0.9" stroke-linejoin="miter"/><path d="M173.6 1155.6 L177.2 1162.3 L170.0 1162.3 Z" fill="#ececec" stroke="#333" stroke-width="0.9" stroke-linejoin="miter"/><path d="M175.0 1159.6 L178.6 1166.3 L171.4 1166.3 Z" fill="#ececec" stroke="#333" stroke-width="0.9" stroke-linejoin="miter"/><path d="M177.7 1159.6 L181.3 1166.3 L174.1 1166.3 Z" fill="#ececec" stroke="#333" stroke-width="0.9" stroke-linejoin="miter"/><path d="M174.3 1163.7 L177.9 1170.4 L170.7 1170.4 Z" fill="#ececec" stroke="#333" stroke-width="0.9" stroke-linejoin="miter"/><path d="M177.0 1165.0 L180.6 1171.7 L173.4 1171.7 Z" fill="#ececec" stroke="#333" stroke-width="0.9" stroke-linejoin="miter"/><path d="M175.6 1167.8 L179.2 1174.5 L172.0 1174.5 Z" fill="#ececec" stroke="#333" stroke-width="0.9" stroke-linejoin="miter"/><circle cx="189.9" cy="835.5" r="3.2" fill="#c20d1a" stroke="#7d0a12" stroke-width="0.6"/><circle cx="191.1" cy="857.0" r="3.2" fill="#c20d1a" stroke="#7d0a12" stroke-width="0.6"/><circle cx="187.3" cy="934.0" r="3.2" fill="#c20d1a" stroke="#7d0a12" stroke-width="0.6"/><circle cx="186.8" cy="1029.5" r="3.2" fill="#c20d1a" stroke="#7d0a12" stroke-width="0.6"/><circle cx="189.9" cy="1058.0" r="3.2" fill="#c20d1a" stroke="#7d0a12" stroke-width="0.6"/><circle cx="183.3" cy="1075.0" r="3.2" fill="#c20d1a" stroke="#7d0a12" stroke-width="0.6"/><circle cx="187.8" cy="1080.5" r="3.2" fill="#c20d1a" stroke="#7d0a12" stroke-width="0.6"/><circle cx="186.1" cy="1111.4" r="3.2" fill="#c20d1a" stroke="#7d0a12" stroke-width="0.6"/><circle cx="186.9" cy="1116.1" r="3.2" fill="#c20d1a" stroke="#7d0a12" stroke-width="0.6"/><rect x="51.0" y="794.0" width="251.0" height="377.0" fill="none" stroke="#000" stroke-width="2.5"/><line x1="51.0" x2="51.0" y1="1171.0" y2="1177.0" stroke="#000" stroke-width="2"/><text x="51.4" y="1186.7" font-size="11.2" font-weight="bold" text-anchor="middle" fill="#000" dominant-baseline="central">-20</text><line x1="113.8" x2="113.8" y1="1171.0" y2="1177.0" stroke="#000" stroke-width="2"/><text x="114.2" y="1186.7" font-size="11.2" font-weight="bold" text-anchor="middle" fill="#000" dominant-baseline="central">-10</text><line x1="176.5" x2="176.5" y1="1171.0" y2="1177.0" stroke="#000" stroke-width="2"/><text x="176.5" y="1186.7" font-size="11.2" font-weight="bold" text-anchor="middle" fill="#000" dominant-baseline="central">0</text><line x1="239.2" x2="239.2" y1="1171.0" y2="1177.0" stroke="#000" stroke-width="2"/><text x="239.2" y="1186.7" font-size="11.2" font-weight="bold" text-anchor="middle" fill="#000" dominant-baseline="central">10</text><line x1="302.0" x2="302.0" y1="1171.0" y2="1177.0" stroke="#000" stroke-width="2"/><text x="302.0" y="1186.7" font-size="11.2" font-weight="bold" text-anchor="middle" fill="#000" dominant-baseline="central">20</text><line x1="44.5" x2="51.0" y1="1171.0" y2="1171.0" stroke="#000" stroke-width="2"/><text x="42.0" y="1171.3" font-size="11.2" font-weight="bold" text-anchor="end" fill="#000" dominant-baseline="central">0.0</text><line x1="44.5" x2="51.0" y1="1076.8" y2="1076.8" stroke="#000" stroke-width="2"/><text x="42.0" y="1077.0" font-size="11.2" font-weight="bold" text-anchor="end" fill="#000" dominant-baseline="central">2.5</text><line x1="44.5" x2="51.0" y1="982.5" y2="982.5" stroke="#000" stroke-width="2"/><text x="42.0" y="982.8" font-size="11.2" font-weight="bold" text-anchor="end" fill="#000" dominant-baseline="central">5.0</text><line x1="44.5" x2="51.0" y1="888.2" y2="888.2" stroke="#000" stroke-width="2"/><text x="42.0" y="888.5" font-size="11.2" font-weight="bold" text-anchor="end" fill="#000" dominant-baseline="central">7.5</text><line x1="44.5" x2="51.0" y1="794.0" y2="794.0" stroke="#000" stroke-width="2"/><text x="42.0" y="794.3" font-size="11.2" font-weight="bold" text-anchor="end" fill="#000" dominant-baseline="central">10.0</text><text x="177.2" y="773.5" font-size="15.45" font-weight="bold" text-anchor="middle">Transform of DEGs_HG2018</text><text x="176.5" y="1211.1" font-size="12.9" text-anchor="middle" fill="#222">log<tspan font-size="9.2" dy="2.5">2</tspan><tspan dy="-2.5">(FoldChange)</tspan></text><text x="11.0" y="982.5" font-size="13" text-anchor="middle" fill="#222" transform="rotate(-90 11.0 982.5)">-log10(<tspan font-style="italic">p</tspan>-value)</text></g>
<g><line x1="435.4" x2="435.4" y1="794.0" y2="1171.0" stroke="#8c8c8c" stroke-width="1.2" stroke-dasharray="4.6 3.3"/><line x1="372.6" x2="623.6" y1="888.2" y2="888.2" stroke="#8c8c8c" stroke-width="1.2" stroke-dasharray="4.6 3.3"/><line x1="498.1" x2="498.1" y1="794.0" y2="1171.0" stroke="#8c8c8c" stroke-width="1.2" stroke-dasharray="4.6 3.3"/><line x1="372.6" x2="623.6" y1="982.5" y2="982.5" stroke="#8c8c8c" stroke-width="1.2" stroke-dasharray="4.6 3.3"/><line x1="560.9" x2="560.9" y1="794.0" y2="1171.0" stroke="#8c8c8c" stroke-width="1.2" stroke-dasharray="4.6 3.3"/><line x1="372.6" x2="623.6" y1="1076.8" y2="1076.8" stroke="#8c8c8c" stroke-width="1.2" stroke-dasharray="4.6 3.3"/><rect x="469.6" y="816.1" width="6.2" height="6.2" fill="#3fc0e6" stroke="#126a86" stroke-width="0.95"/><rect x="472.7" y="834.5" width="6.2" height="6.2" fill="#3fc0e6" stroke="#126a86" stroke-width="0.95"/><rect x="467.4" y="845.1" width="6.2" height="6.2" fill="#3fc0e6" stroke="#126a86" stroke-width="0.95"/><rect x="468.4" y="851.1" width="6.2" height="6.2" fill="#3fc0e6" stroke="#126a86" stroke-width="0.95"/><rect x="451.3" y="857.0" width="6.2" height="6.2" fill="#3fc0e6" stroke="#126a86" stroke-width="0.95"/><rect x="465.5" y="883.4" width="6.2" height="6.2" fill="#3fc0e6" stroke="#126a86" stroke-width="0.95"/><rect x="478.7" y="885.0" width="6.2" height="6.2" fill="#3fc0e6" stroke="#126a86" stroke-width="0.95"/><rect x="481.3" y="888.1" width="6.2" height="6.2" fill="#3fc0e6" stroke="#126a86" stroke-width="0.95"/><rect x="470.2" y="898.2" width="6.2" height="6.2" fill="#3fc0e6" stroke="#126a86" stroke-width="0.95"/><rect x="451.5" y="906.5" width="6.2" height="6.2" fill="#3fc0e6" stroke="#126a86" stroke-width="0.95"/><rect x="462.4" y="907.5" width="6.2" height="6.2" fill="#3fc0e6" stroke="#126a86" stroke-width="0.95"/><rect x="467.6" y="922.4" width="6.2" height="6.2" fill="#3fc0e6" stroke="#126a86" stroke-width="0.95"/><rect x="471.2" y="922.0" width="6.2" height="6.2" fill="#3fc0e6" stroke="#126a86" stroke-width="0.95"/><rect x="469.2" y="928.6" width="6.2" height="6.2" fill="#3fc0e6" stroke="#126a86" stroke-width="0.95"/><rect x="479.3" y="935.6" width="6.2" height="6.2" fill="#3fc0e6" stroke="#126a86" stroke-width="0.95"/><rect x="472.8" y="947.8" width="6.2" height="6.2" fill="#3fc0e6" stroke="#126a86" stroke-width="0.95"/><rect x="463.2" y="951.6" width="6.2" height="6.2" fill="#3fc0e6" stroke="#126a86" stroke-width="0.95"/><rect x="475.3" y="975.5" width="6.2" height="6.2" fill="#3fc0e6" stroke="#126a86" stroke-width="0.95"/><rect x="477.4" y="982.8" width="6.2" height="6.2" fill="#3fc0e6" stroke="#126a86" stroke-width="0.95"/><rect x="483.1" y="982.5" width="6.2" height="6.2" fill="#3fc0e6" stroke="#126a86" stroke-width="0.95"/><rect x="456.4" y="1005.1" width="6.2" height="6.2" fill="#3fc0e6" stroke="#126a86" stroke-width="0.95"/><rect x="479.0" y="1004.8" width="6.2" height="6.2" fill="#3fc0e6" stroke="#126a86" stroke-width="0.95"/><rect x="476.2" y="1011.3" width="6.2" height="6.2" fill="#3fc0e6" stroke="#126a86" stroke-width="0.95"/><rect x="488.4" y="1019.5" width="6.2" height="6.2" fill="#3fc0e6" stroke="#126a86" stroke-width="0.95"/><rect x="482.3" y="1028.1" width="6.2" height="6.2" fill="#3fc0e6" stroke="#126a86" stroke-width="0.95"/><rect x="478.2" y="1034.6" width="6.2" height="6.2" fill="#3fc0e6" stroke="#126a86" stroke-width="0.95"/><rect x="472.8" y="1037.9" width="6.2" height="6.2" fill="#3fc0e6" stroke="#126a86" stroke-width="0.95"/><rect x="482.4" y="1051.6" width="6.2" height="6.2" fill="#3fc0e6" stroke="#126a86" stroke-width="0.95"/><rect x="470.5" y="1061.1" width="6.2" height="6.2" fill="#3fc0e6" stroke="#126a86" stroke-width="0.95"/><rect x="477.6" y="1065.1" width="6.2" height="6.2" fill="#3fc0e6" stroke="#126a86" stroke-width="0.95"/><rect x="483.0" y="1064.5" width="6.2" height="6.2" fill="#3fc0e6" stroke="#126a86" stroke-width="0.95"/><rect x="488.5" y="1066.5" width="6.2" height="6.2" fill="#3fc0e6" stroke="#126a86" stroke-width="0.95"/><rect x="482.4" y="1072.6" width="6.2" height="6.2" fill="#3fc0e6" stroke="#126a86" stroke-width="0.95"/><rect x="482.4" y="1078.0" width="6.2" height="6.2" fill="#3fc0e6" stroke="#126a86" stroke-width="0.95"/><rect x="476.2" y="1082.8" width="6.2" height="6.2" fill="#3fc0e6" stroke="#126a86" stroke-width="0.95"/><rect x="483.7" y="1085.5" width="6.2" height="6.2" fill="#3fc0e6" stroke="#126a86" stroke-width="0.95"/><rect x="482.4" y="1091.6" width="6.2" height="6.2" fill="#3fc0e6" stroke="#126a86" stroke-width="0.95"/><rect x="487.1" y="1093.4" width="6.2" height="6.2" fill="#3fc0e6" stroke="#126a86" stroke-width="0.95"/><rect x="480.3" y="1095.5" width="6.2" height="6.2" fill="#3fc0e6" stroke="#126a86" stroke-width="0.95"/><rect x="484.4" y="1098.5" width="6.2" height="6.2" fill="#3fc0e6" stroke="#126a86" stroke-width="0.95"/><rect x="481.7" y="1100.6" width="6.2" height="6.2" fill="#3fc0e6" stroke="#126a86" stroke-width="0.95"/><rect x="477.6" y="1105.2" width="6.2" height="6.2" fill="#3fc0e6" stroke="#126a86" stroke-width="0.95"/><rect x="483.7" y="1106.8" width="6.2" height="6.2" fill="#3fc0e6" stroke="#126a86" stroke-width="0.95"/><rect x="487.8" y="1112.3" width="6.2" height="6.2" fill="#3fc0e6" stroke="#126a86" stroke-width="0.95"/><rect x="475.6" y="1118.4" width="6.2" height="6.2" fill="#3fc0e6" stroke="#126a86" stroke-width="0.95"/><rect x="485.1" y="1119.0" width="6.2" height="6.2" fill="#3fc0e6" stroke="#126a86" stroke-width="0.95"/><rect x="485.1" y="1123.8" width="6.2" height="6.2" fill="#3fc0e6" stroke="#126a86" stroke-width="0.95"/><rect x="483.7" y="1128.5" width="6.2" height="6.2" fill="#3fc0e6" stroke="#126a86" stroke-width="0.95"/><rect x="488.2" y="1131.9" width="6.2" height="6.2" fill="#3fc0e6" stroke="#126a86" stroke-width="0.95"/><rect x="487.1" y="1137.4" width="6.2" height="6.2" fill="#3fc0e6" stroke="#126a86" stroke-width="0.95"/><rect x="486.4" y="1143.5" width="6.2" height="6.2" fill="#3fc0e6" stroke="#126a86" stroke-width="0.95"/><rect x="482.4" y="1150.9" width="6.2" height="6.2" fill="#3fc0e6" stroke="#126a86" stroke-width="0.95"/><rect x="488.2" y="1155.0" width="6.2" height="6.2" fill="#3fc0e6" stroke="#126a86" stroke-width="0.95"/><rect x="476.2" y="1161.1" width="6.2" height="6.2" fill="#3fc0e6" stroke="#126a86" stroke-width="0.95"/><rect x="481.0" y="1163.1" width="6.2" height="6.2" fill="#3fc0e6" stroke="#126a86" stroke-width="0.95"/><rect x="487.8" y="1163.1" width="6.2" height="6.2" fill="#3fc0e6" stroke="#126a86" stroke-width="0.95"/><path d="M492.9 1105.2 L496.5 1111.9 L489.3 1111.9 Z" fill="#ececec" stroke="#333" stroke-width="0.9" stroke-linejoin="miter"/><path d="M501.1 1131.7 L504.7 1138.4 L497.5 1138.4 Z" fill="#ececec" stroke="#333" stroke-width="0.9" stroke-linejoin="miter"/><path d="M501.1 1141.2 L504.7 1147.9 L497.5 1147.9 Z" fill="#ececec" stroke="#333" stroke-width="0.9" stroke-linejoin="miter"/><path d="M503.1 1145.3 L506.7 1152.0 L499.5 1152.0 Z" fill="#ececec" stroke="#333" stroke-width="0.9" stroke-linejoin="miter"/><path d="M495.6 1150.0 L499.2 1156.7 L492.0 1156.7 Z" fill="#ececec" stroke="#333" stroke-width="0.9" stroke-linejoin="miter"/><path d="M499.0 1159.5 L502.6 1166.2 L495.4 1166.2 Z" fill="#ececec" stroke="#333" stroke-width="0.9" stroke-linejoin="miter"/><path d="M501.7 1161.6 L505.3 1168.3 L498.1 1168.3 Z" fill="#ececec" stroke="#333" stroke-width="0.9" stroke-linejoin="miter"/><path d="M497.7 1165.0 L501.3 1171.7 L494.1 1171.7 Z" fill="#ececec" stroke="#333" stroke-width="0.9" stroke-linejoin="miter"/><circle cx="513.8" cy="823.8" r="3.2" fill="#c20d1a" stroke="#7d0a12" stroke-width="0.6"/><circle cx="521.2" cy="823.8" r="3.2" fill="#c20d1a" stroke="#7d0a12" stroke-width="0.6"/><circle cx="518.7" cy="826.0" r="3.2" fill="#c20d1a" stroke="#7d0a12" stroke-width="0.6"/><circle cx="510.6" cy="863.4" r="3.2" fill="#c20d1a" stroke="#7d0a12" stroke-width="0.6"/><circle cx="512.2" cy="863.0" r="3.2" fill="#c20d1a" stroke="#7d0a12" stroke-width="0.6"/><circle cx="511.4" cy="903.6" r="3.2" fill="#c20d1a" stroke="#7d0a12" stroke-width="0.6"/><circle cx="515.5" cy="901.3" r="3.2" fill="#c20d1a" stroke="#7d0a12" stroke-width="0.6"/><circle cx="510.8" cy="930.0" r="3.2" fill="#c20d1a" stroke="#7d0a12" stroke-width="0.6"/><circle cx="510.3" cy="951.4" r="3.2" fill="#c20d1a" stroke="#7d0a12" stroke-width="0.6"/><circle cx="507.5" cy="968.8" r="3.2" fill="#c20d1a" stroke="#7d0a12" stroke-width="0.6"/><circle cx="509.8" cy="998.6" r="3.2" fill="#c20d1a" stroke="#7d0a12" stroke-width="0.6"/><circle cx="510.6" cy="1046.0" r="3.2" fill="#c20d1a" stroke="#7d0a12" stroke-width="0.6"/><circle cx="507.8" cy="1054.0" r="3.2" fill="#c20d1a" stroke="#7d0a12" stroke-width="0.6"/><circle cx="504.9" cy="1063.8" r="3.2" fill="#c20d1a" stroke="#7d0a12" stroke-width="0.6"/><circle cx="507.2" cy="1067.3" r="3.2" fill="#c20d1a" stroke="#7d0a12" stroke-width="0.6"/><circle cx="509.9" cy="1071.4" r="3.2" fill="#c20d1a" stroke="#7d0a12" stroke-width="0.6"/><circle cx="506.2" cy="1075.0" r="3.2" fill="#c20d1a" stroke="#7d0a12" stroke-width="0.6"/><circle cx="509.9" cy="1080.5" r="3.2" fill="#c20d1a" stroke="#7d0a12" stroke-width="0.6"/><circle cx="505.4" cy="1083.4" r="3.2" fill="#c20d1a" stroke="#7d0a12" stroke-width="0.6"/><circle cx="509.2" cy="1098.0" r="3.2" fill="#c20d1a" stroke="#7d0a12" stroke-width="0.6"/><circle cx="504.8" cy="1101.0" r="3.2" fill="#c20d1a" stroke="#7d0a12" stroke-width="0.6"/><circle cx="506.5" cy="1105.9" r="3.2" fill="#c20d1a" stroke="#7d0a12" stroke-width="0.6"/><circle cx="503.8" cy="1108.3" r="3.2" fill="#c20d1a" stroke="#7d0a12" stroke-width="0.6"/><circle cx="505.8" cy="1109.2" r="3.2" fill="#c20d1a" stroke="#7d0a12" stroke-width="0.6"/><circle cx="507.8" cy="1112.6" r="3.2" fill="#c20d1a" stroke="#7d0a12" stroke-width="0.6"/><circle cx="505.1" cy="1116.0" r="3.2" fill="#c20d1a" stroke="#7d0a12" stroke-width="0.6"/><circle cx="505.8" cy="1140.5" r="3.2" fill="#c20d1a" stroke="#7d0a12" stroke-width="0.6"/><circle cx="509.9" cy="1141.1" r="3.2" fill="#c20d1a" stroke="#7d0a12" stroke-width="0.6"/><circle cx="507.8" cy="1143.8" r="3.2" fill="#c20d1a" stroke="#7d0a12" stroke-width="0.6"/><circle cx="521.0" cy="1142.9" r="3.2" fill="#c20d1a" stroke="#7d0a12" stroke-width="0.6"/><rect x="372.6" y="794.0" width="251.0" height="377.0" fill="none" stroke="#000" stroke-width="2.5"/><line x1="372.6" x2="372.6" y1="1171.0" y2="1177.0" stroke="#000" stroke-width="2"/><text x="373.0" y="1186.7" font-size="11.2" font-weight="bold" text-anchor="middle" fill="#000" dominant-baseline="central">-20</text><line x1="435.4" x2="435.4" y1="1171.0" y2="1177.0" stroke="#000" stroke-width="2"/><text x="435.8" y="1186.7" font-size="11.2" font-weight="bold" text-anchor="middle" fill="#000" dominant-baseline="central">-10</text><line x1="498.1" x2="498.1" y1="1171.0" y2="1177.0" stroke="#000" stroke-width="2"/><text x="498.1" y="1186.7" font-size="11.2" font-weight="bold" text-anchor="middle" fill="#000" dominant-baseline="central">0</text><line x1="560.9" x2="560.9" y1="1171.0" y2="1177.0" stroke="#000" stroke-width="2"/><text x="560.9" y="1186.7" font-size="11.2" font-weight="bold" text-anchor="middle" fill="#000" dominant-baseline="central">10</text><line x1="623.6" x2="623.6" y1="1171.0" y2="1177.0" stroke="#000" stroke-width="2"/><text x="623.6" y="1186.7" font-size="11.2" font-weight="bold" text-anchor="middle" fill="#000" dominant-baseline="central">20</text><line x1="366.1" x2="372.6" y1="1171.0" y2="1171.0" stroke="#000" stroke-width="2"/><text x="363.6" y="1171.3" font-size="11.2" font-weight="bold" text-anchor="end" fill="#000" dominant-baseline="central">0</text><line x1="366.1" x2="372.6" y1="1076.8" y2="1076.8" stroke="#000" stroke-width="2"/><text x="363.6" y="1077.0" font-size="11.2" font-weight="bold" text-anchor="end" fill="#000" dominant-baseline="central">80</text><line x1="366.1" x2="372.6" y1="982.5" y2="982.5" stroke="#000" stroke-width="2"/><text x="363.6" y="982.8" font-size="11.2" font-weight="bold" text-anchor="end" fill="#000" dominant-baseline="central">160</text><line x1="366.1" x2="372.6" y1="888.2" y2="888.2" stroke="#000" stroke-width="2"/><text x="363.6" y="888.5" font-size="11.2" font-weight="bold" text-anchor="end" fill="#000" dominant-baseline="central">240</text><line x1="366.1" x2="372.6" y1="794.0" y2="794.0" stroke="#000" stroke-width="2"/><text x="363.6" y="794.3" font-size="11.2" font-weight="bold" text-anchor="end" fill="#000" dominant-baseline="central">320</text><text x="499.7" y="773.5" font-size="15.45" font-weight="bold" text-anchor="middle">Transform of DEGs_HLJ2018</text><text x="498.1" y="1211.1" font-size="12.9" text-anchor="middle" fill="#222">log<tspan font-size="9.2" dy="2.5">2</tspan><tspan dy="-2.5">(FoldChange)</tspan></text><text x="335.3" y="982.5" font-size="13" text-anchor="middle" fill="#222" transform="rotate(-90 335.3 982.5)">-log10(<tspan font-style="italic">p</tspan>-value)</text></g>
<circle cx="82.4" cy="1244.5" r="6.6" fill="#c20d1a" stroke="#7d0a12" stroke-width="0.8"/>
<text x="100.5" y="1251.5" font-size="19.7" fill="#222">Early genes</text>
<rect x="217.3" y="1237.3" width="15" height="15" fill="#3fc3e8" stroke="#0d6f8c" stroke-width="1.2"/>
<text x="244.5" y="1251.5" font-size="19.7" fill="#222">Late genes</text>
<path d="M368.5 1236.3 L378.6 1252.8 L358.4 1252.8 Z" fill="#e0e0e0" stroke="#444" stroke-width="1.1"/>
<text x="388.5" y="1251.5" font-size="19.7" fill="#222">Constant genes</text>
</svg></body></html>
